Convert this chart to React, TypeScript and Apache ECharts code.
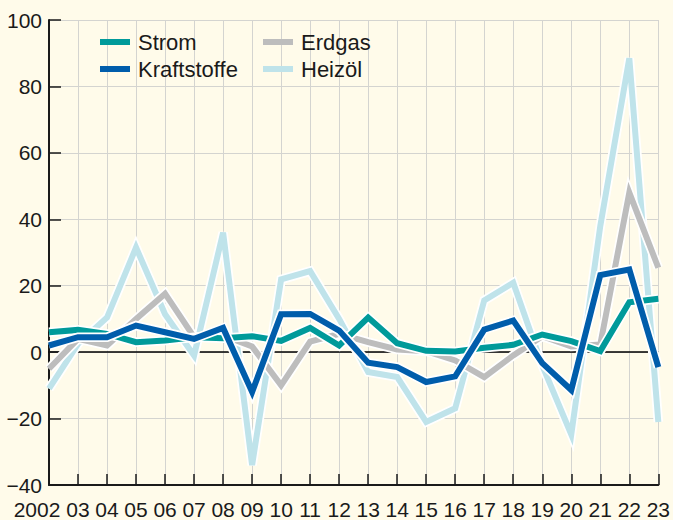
import React, { useEffect, useRef } from 'react';
import * as echarts from 'echarts';

const years = ['2002', '03', '04', '05', '06', '07', '08', '09', '10', '11', '12', '13', '14', '15', '16', '17', '18', '19', '20', '21', '22', '23'];
const strom = [6.0, 6.7, 5.5, 3.0, 3.5, 4.5, 4.2, 4.8, 3.4, 7.3, 2.0, 10.4, 2.7, 0.4, 0.2, 1.3, 2.2, 5.3, 3.3, 0.3, 15.0, 16.1];
const kraftstoffe = [2.0, 4.5, 4.5, 8.0, 6.0, 4.0, 7.3, -12.0, 11.4, 11.5, 6.5, -3.2, -4.5, -9.0, -7.3, 6.8, 9.5, -3.3, -11.4, 23.2, 24.9, -4.5];
const erdgas = [-5.0, 4.0, 2.0, 10.0, 17.6, 4.5, 5.0, 1.7, -10.0, 3.2, 5.5, 3.0, 0.8, 0.3, -2.5, -7.5, -1.0, 4.8, 1.7, 2.3, 48.0, 25.4];
const heizoel = [-11.0, 2.5, 10.4, 31.5, 11.4, -1.0, 36.0, -34.0, 21.9, 24.4, 10.0, -6.0, -7.5, -21.0, -16.9, 15.6, 20.9, -4.0, -24.8, 38.0, 88.5, -21.0];
const yTicks = { min: -40, max: 100, step: 20 };

const FONT = '"Liberation Sans", Arial, sans-serif';
const TEXT = '#1a1a1a';
const GRID = '#d4d4d0';

export default function App() {
  const ref = useRef<HTMLDivElement>(null);
  useEffect(() => {
    const chart = echarts.init(ref.current!, null, { renderer: 'svg' });
    const mk = (name: string, data: number[], color: string) => [
      {
        name: name + '_outline',
        type: 'line',
        data,
        symbol: 'none',
        silent: true,
        color: '#ffffff',
        lineStyle: { color: '#ffffff', width: 9.5, join: 'miter', miterLimit: 10, cap: 'butt' },
        z: 2,
      },
      {
        name,
        type: 'line',
        data,
        symbol: 'none',
        color,
        itemStyle: { color },
        lineStyle: { color, width: 6, join: 'miter', miterLimit: 10, cap: 'butt' },
        z: 2,
      },
    ];
    const legendCommon = {
      orient: 'vertical',
      top: 31,
      padding: 0,
      icon: 'rect',
      itemWidth: 30,
      itemHeight: 6,
      itemGap: 5,
      textStyle: { fontSize: 22, fontFamily: FONT, color: TEXT, padding: [0, 0, 0, 3], lineHeight: 22 },
    };
    chart.setOption({
      animation: false,
      backgroundColor: '#fffbea',
      legend: [
        { ...legendCommon, left: 100, data: ['Strom', 'Kraftstoffe'] },
        { ...legendCommon, left: 263, data: ['Erdgas', 'Heizöl'] },
      ],
      grid: { left: 49, right: 11, top: 20, bottom: 32, containLabel: false },
      xAxis: [
        {
          type: 'category',
          data: years,
          boundaryGap: false,
          position: 'bottom',
          axisLine: { onZero: false, lineStyle: { color: TEXT, width: 2 } },
          axisTick: { inside: true, length: 11, interval: 0, lineStyle: { color: TEXT, width: 1.5 } },
          axisLabel: {
            interval: 0,
            margin: 14,
            fontSize: 21,
            fontFamily: FONT,
            color: TEXT,
            hideOverlap: false,
            formatter: (v: string, i: number) => (i === 0 ? '{first|' + v + '}' : v),
            rich: { first: { padding: [0, 24, 0, 0], fontSize: 21, fontFamily: FONT, color: TEXT } },
          },
          splitLine: { show: true, interval: 0, lineStyle: { color: GRID, width: 1 } },
        },
        {
          type: 'category',
          data: years,
          boundaryGap: false,
          position: 'bottom',
          axisLine: { onZero: true, lineStyle: { color: '#000000', width: 1.5 } },
          axisTick: { show: false },
          axisLabel: { show: false },
          splitLine: { show: false },
        },
      ],
      yAxis: {
        type: 'value',
        min: yTicks.min,
        max: yTicks.max,
        interval: yTicks.step,
        axisLine: { show: true, lineStyle: { color: TEXT, width: 2 } },
        axisTick: { show: true, inside: true, length: 12, lineStyle: { color: TEXT, width: 1.5 } },
        axisLabel: {
          margin: 7,
          fontSize: 21,
          fontFamily: FONT,
          color: TEXT,
          formatter: (v: number) => (v < 0 ? '\u2212' + Math.abs(v) : String(v)),
        },
        splitLine: { show: true, lineStyle: { color: GRID, width: 1 } },
      },
      series: [
        ...mk('Heizöl', heizoel, '#bfe3ea'),
        ...mk('Erdgas', erdgas, '#bdbdbd'),
        ...mk('Strom', strom, '#009a9a'),
        ...mk('Kraftstoffe', kraftstoffe, '#005dab'),
      ],
    });
    return () => chart.dispose();
  }, []);
  return <div ref={ref} style={{ position: 'fixed', left: 0, top: 0, width: 673, height: 520 }} />;
}
